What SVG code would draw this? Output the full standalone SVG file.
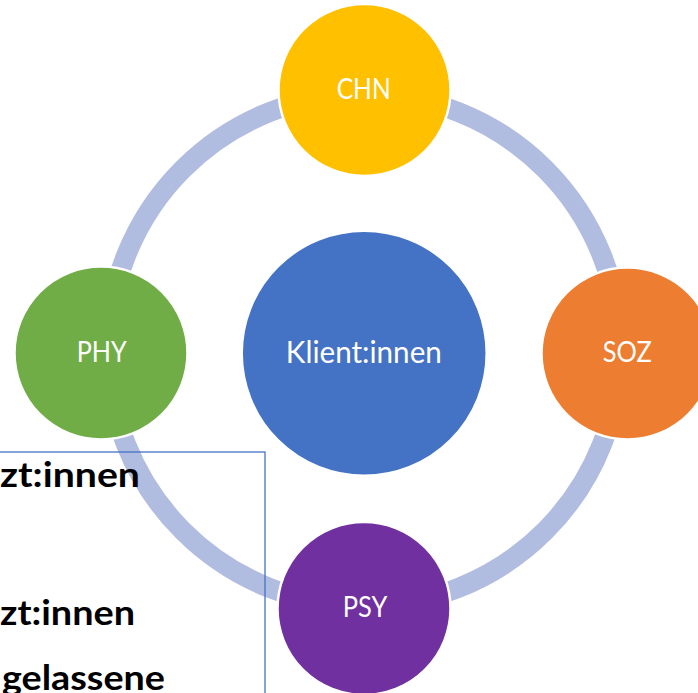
<svg xmlns="http://www.w3.org/2000/svg" width="698" height="693" viewBox="0 0 698 693">
  <style>
    .node { stroke: #ffffff; stroke-width: 2.5; }
    .lbl { font-family: Lato, "Open Sans", "Liberation Sans", sans-serif; fill: #ffffff; text-anchor: middle; font-size: 28px; }
    .big { font-size: 30px; }
    .ring { fill: none; stroke: #B0BCE0; stroke-width: 20; }
    .box { fill: none; stroke: #4472C4; stroke-width: 1.3; }
    .note { font-family: Lato, "Liberation Sans", sans-serif; font-weight: bold; font-size: 34px; fill: #000000; }
  </style>
  <rect width="698" height="693" fill="#ffffff"/>
  <g id="connectors">
    <circle class="ring" cx="364" cy="350" r="256"/>
  </g>
  <g id="node-klient">
    <circle class="node" cx="364.2" cy="353.3" r="122.5" fill="#4472C4" stroke="none"/>
    <text class="lbl big" x="363.8" y="363.3" textLength="156" lengthAdjust="spacingAndGlyphs">Klient:innen</text>
  </g>
  <g id="node-chn">
    <circle class="node" cx="364.5" cy="90" r="86" fill="#FFC000"/>
    <text class="lbl" x="363.7" y="99.3" textLength="54" lengthAdjust="spacingAndGlyphs">CHN</text>
  </g>
  <g id="node-soz">
    <circle class="node" cx="627.5" cy="353.5" r="86" fill="#ED7D31"/>
    <text class="lbl" x="627.2" y="361.7" textLength="49" lengthAdjust="spacingAndGlyphs">SOZ</text>
  </g>
  <g id="node-phy">
    <circle class="node" cx="101" cy="353" r="86.5" fill="#70AD47"/>
    <text class="lbl" x="101.7" y="361.7" textLength="50" lengthAdjust="spacingAndGlyphs">PHY</text>
  </g>
  <g id="node-psy">
    <circle class="node" cx="364" cy="608.5" r="86.5" fill="#7030A0"/>
    <text class="lbl" x="365" y="617.3" textLength="44.6" lengthAdjust="spacingAndGlyphs">PSY</text>
  </g>
  <g id="textbox">
    <rect class="box" x="-10" y="452" width="275" height="260"/>
    <text class="note" x="0" y="487" textLength="140" lengthAdjust="spacingAndGlyphs">zt:innen</text>
    <text class="note" x="0" y="625" textLength="135" lengthAdjust="spacingAndGlyphs">zt:innen</text>
    <text class="note" x="2" y="690" textLength="163" lengthAdjust="spacingAndGlyphs">gelassene</text>
  </g>
</svg>
